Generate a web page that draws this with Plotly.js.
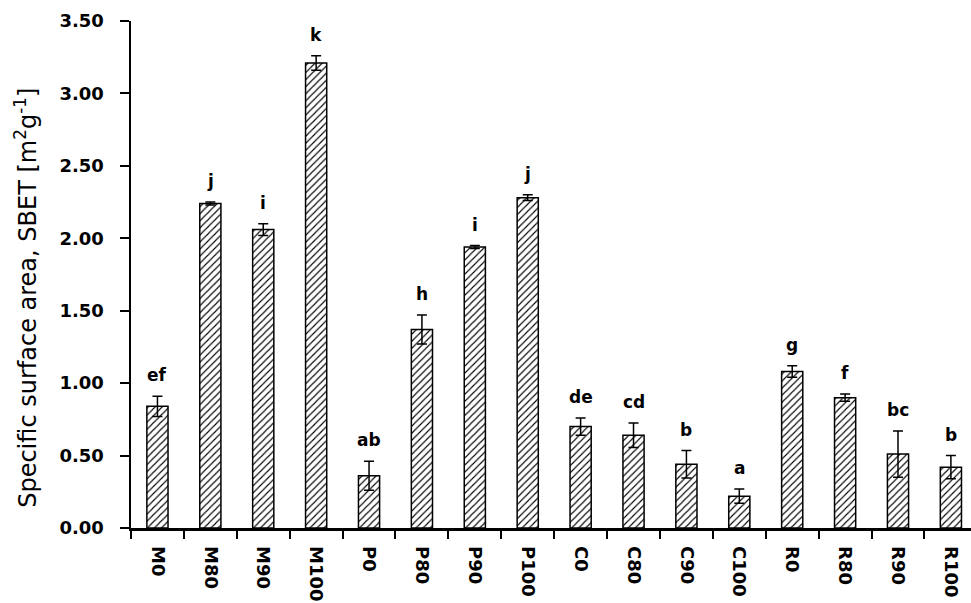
<!DOCTYPE html>
<html>
<head>
<meta charset="utf-8">
<script src="https://cdn.plot.ly/plotly-3.0.1.min.js"></script>
<style>
  html, body { margin: 0; padding: 0; background: #fff; }
  #chart { width: 971px; height: 603px; }
</style>
</head>
<body>
<div id="chart"></div>
<script>
// Sample names (x axis)
const samples = ['M0', 'M80', 'M90', 'M100', 'P0', 'P80', 'P90', 'P100',
                 'C0', 'C80', 'C90', 'C100', 'R0', 'R80', 'R90', 'R100'];

// Mean specific surface area, SBET [m2 g-1]
const sbet = [0.84, 2.24, 2.06, 3.21, 0.36, 1.37, 1.94, 2.28,
              0.70, 0.64, 0.44, 0.22, 1.08, 0.90, 0.51, 0.42];

// Standard deviations
const sd = [0.07, 0.01, 0.04, 0.05, 0.10, 0.10, 0.01, 0.02,
            0.06, 0.085, 0.095, 0.05, 0.04, 0.025, 0.16, 0.08];

// Homogeneous groups (significance letters)
const groups = ['ef', 'j', 'i', 'k', 'ab', 'h', 'i', 'j',
                'de', 'cd', 'b', 'a', 'g', 'f', 'bc', 'b'];

// Y axis tick values and labels
const yTicks = [0, 0.5, 1, 1.5, 2, 2.5, 3, 3.5];
const yTickText = ['0.00', '0.50', '1.00', '1.50', '2.00', '2.50', '3.00', '3.50'];

const yTitle = 'Specific surface area, SBET [m<sup>2</sup>g<sup>-1</sup>]';

const bars = {
  type: 'bar',
  x: samples,
  y: sbet,
  width: 0.4,
  marker: {
    color: '#fff',
    line: { color: '#000', width: 1.5 },
    pattern: { shape: '/', fgcolor: '#000', bgcolor: '#fff', size: 5, solidity: 0.22 }
  },
  error_y: {
    type: 'data',
    array: sd,
    visible: true,
    color: '#000',
    thickness: 1.5,
    width: 5
  },
  hoverinfo: 'x+y'
};

// Significance letters sit just above each error bar
const letterAnnotations = samples.map((s, i) => ({
  x: s,
  y: sbet[i] + sd[i],
  xref: 'x',
  yref: 'y',
  text: '<b>' + groups[i] + '</b>',
  showarrow: false,
  yanchor: 'middle',
  yshift: 21,
  font: { family: 'DejaVu Sans', size: 17, color: '#000' }
}));

// Rotated y axis title
const titleAnnotation = {
  xref: 'paper',
  yref: 'paper',
  x: -0.125,
  y: 0.454,
  xanchor: 'center',
  yanchor: 'middle',
  textangle: -90,
  showarrow: false,
  text: yTitle,
  font: { family: 'DejaVu Sans', size: 24, color: '#000' }
};

const layout = {
  width: 971,
  height: 603,
  margin: { l: 131, r: 0, t: 21, b: 75, pad: 0 },
  paper_bgcolor: '#fff',
  plot_bgcolor: '#fff',
  showlegend: false,
  xaxis: {
    type: 'category',
    range: [-0.5, 15.38],
    tickangle: 90,
    tickson: 'boundaries',
    ticks: 'outside',
    ticklen: 8,
    tickwidth: 2,
    tickcolor: '#000',
    ticklabelstandoff: 12,
    showline: true,
    linecolor: '#000',
    linewidth: 2.5,
    showgrid: false,
    zeroline: false,
    tickfont: { family: 'DejaVu Sans', size: 18, color: '#000', weight: 'bold' }
  },
  yaxis: {
    range: [0, 3.5],
    tickvals: yTicks,
    ticktext: yTickText,
    ticks: 'outside',
    ticklen: 9,
    tickwidth: 2,
    tickcolor: '#000',
    ticklabelstandoff: 12,
    showline: true,
    linecolor: '#000',
    linewidth: 2.5,
    showgrid: false,
    zeroline: false,
    tickfont: { family: 'DejaVu Sans', size: 18, color: '#000', weight: 'bold' }
  },
  annotations: letterAnnotations.concat([titleAnnotation])
};

Plotly.newPlot('chart', [bars], layout, { displayModeBar: false, staticPlot: true });
</script>
</body>
</html>
